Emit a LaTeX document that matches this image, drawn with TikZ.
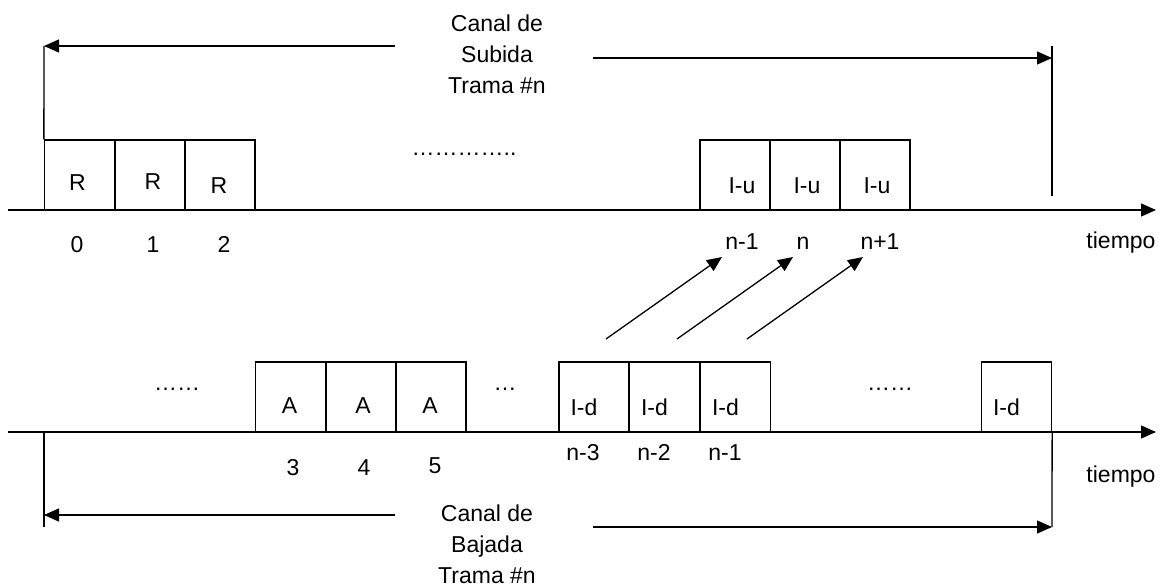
\documentclass[tikz,border=0pt]{standalone}
\usepackage{fontspec}
\setmainfont{Liberation Sans}
\usetikzlibrary{arrows.meta}
\begin{document}
\begin{tikzpicture}[x=1pt, y=-1pt, line width=1.3pt,
           every node/.style = {font=\fontsize{23}{31}\selectfont, inner sep=0},
           slot/.style = {draw, minimum width=70, minimum height=70},
           num/.style = {text height=16.5pt, text depth=0pt},
           tip/.style = {-{Triangle[length=15pt,width=13pt]}}]
  \useasboundingbox (0,0) rectangle (1165,586);
  % canal de subida
  \coordinate (ua0) at (8,210); \coordinate (ua1) at (1156,210);
  \draw[tip] (ua0) -- (ua1);
  \node[slot, label={[shift={(-2,8)}]center:R}] (r0) at (79.5,175) {};
  \node[slot, label={[shift={(3,7)}]center:R}] (r1) at (150,175) {};
  \node[slot, label={[shift={(-1,11)}]center:R}] (r2) at (220,175) {};
  \node[anchor=base] (dotsu) at (464,155) {…………..};
  \node[slot, label={[shift={(7,11)}]center:I-u}] (u0) at (735,175) {};
  \node[slot, label={[shift={(2,11)}]center:I-u}] (u1) at (805,175) {};
  \node[slot, label={[shift={(2,11)}]center:I-u}] (u2) at (875,175) {};
  \node[num] (n0) at (77,244) {0};
  \node[num] (n1) at (153,244) {1};
  \node[num] (n2) at (224,244) {2};
  \node[num] (nu0) at (742,241) {n-1};
  \node[num] (nu1) at (803,241) {n};
  \node[num] (nu2) at (880,241) {n+1};
  \node[num] (tu) at (1121,240) {tiempo};
  \node[align=center] (titu) at (497,54) {Canal de\\Subida\\Trama \#n};
  \coordinate (tl0) at (395,46); \coordinate (tl1) at (44,46);
  \coordinate (tr0) at (593,58); \coordinate (tr1) at (1052,58);
  \coordinate (vr0) at (1052,46); \coordinate (vr1) at (1052,196);
  \draw (r0.north west) -- (tl1);
  \draw[tip] (tl0) -- (tl1);
  \draw[tip] (tr0) -- (tr1);
  \draw (vr0) -- (vr1);
  % canal de bajada
  \coordinate (da0) at (8,432); \coordinate (da1) at (1156,432);
  \draw[tip] (da0) -- (da1);
  \node[anchor=base] (dotsa) at (177,390) {……};
  \node[slot, label={[shift={(-1,9)}]center:A}] (a0) at (290.5,397) {};
  \node[slot, label={[shift={(2,9)}]center:A}] (a1) at (361,397) {};
  \node[slot, label={[shift={(-1,9)}]center:A}] (a2) at (431,397) {};
  \node[anchor=base] (dotsb) at (505,390) {…};
  \node[slot, label={[shift={(-10,10)}]center:I-d}] (d0) at (594,397) {};
  \node[slot, label={[shift={(-10,10)}]center:I-d}] (d1) at (664.5,397) {};
  \node[slot, label={[shift={(-10,10)}]center:I-d}] (d2) at (735.5,397) {};
  \node[anchor=base] (dotsc) at (890,390) {……};
  \node[slot, label={[shift={(-10,10)}]center:I-d}] (d3) at (1016.5,397) {};
  \node[num] (n3) at (293,467) {3};
  \node[num] (n4) at (364,467) {4};
  \node[num] (n5) at (435,465) {5};
  \node[num] (nd0) at (583,452) {n-3};
  \node[num] (nd1) at (654,452) {n-2};
  \node[num] (nd2) at (725,452) {n-1};
  \node[num] (td) at (1121,474) {tiempo};
  \node[align=center] (titd) at (487,544) {Canal de\\Bajada\\Trama \#n};
  \coordinate (vl0) at (44,432); \coordinate (vl1) at (44,527);
  \coordinate (bl0) at (395,515); \coordinate (bl1) at (44,515);
  \coordinate (br0) at (593,527); \coordinate (br1) at (1052,527);
  \draw (vl0) -- (vl1);
  \draw[tip] (bl0) -- (bl1);
  \draw[tip] (br0) -- (br1);
  \draw (d3.south east) -- (br1);
  % de bajada a subida
  \foreach \i/\x in {1/606,2/677,3/747} {
    \coordinate (s\i) at (\x,339);
    \coordinate (e\i) at (\x+116,257);
    \draw[tip] (s\i) -- (e\i);
  }
\end{tikzpicture}
\end{document}
